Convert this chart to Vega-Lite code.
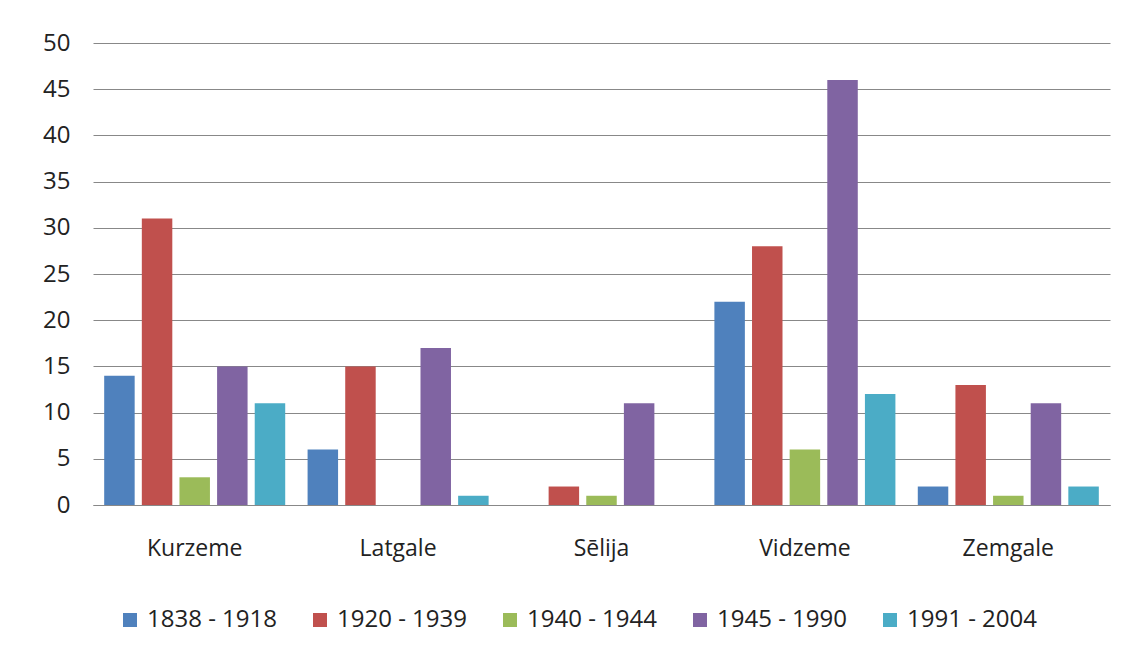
{
  "$schema": "https://vega.github.io/schema/vega-lite/v6.json",
  "autosize": "none",
  "width": 1017,
  "height": 462,
  "padding": {"left": 93, "top": 43, "right": 20, "bottom": 149},
  "background": "white",
  "data": {"values": [
    {"region": "Kurzeme", "period": "1838 - 1918", "value": 14},
    {"region": "Kurzeme", "period": "1920 - 1939", "value": 31},
    {"region": "Kurzeme", "period": "1940 - 1944", "value": 3},
    {"region": "Kurzeme", "period": "1945 - 1990", "value": 15},
    {"region": "Kurzeme", "period": "1991 - 2004", "value": 11},
    {"region": "Latgale", "period": "1838 - 1918", "value": 6},
    {"region": "Latgale", "period": "1920 - 1939", "value": 15},
    {"region": "Latgale", "period": "1940 - 1944", "value": 0},
    {"region": "Latgale", "period": "1945 - 1990", "value": 17},
    {"region": "Latgale", "period": "1991 - 2004", "value": 1},
    {"region": "Sēlija", "period": "1838 - 1918", "value": 0},
    {"region": "Sēlija", "period": "1920 - 1939", "value": 2},
    {"region": "Sēlija", "period": "1940 - 1944", "value": 1},
    {"region": "Sēlija", "period": "1945 - 1990", "value": 11},
    {"region": "Sēlija", "period": "1991 - 2004", "value": 0},
    {"region": "Vidzeme", "period": "1838 - 1918", "value": 22},
    {"region": "Vidzeme", "period": "1920 - 1939", "value": 28},
    {"region": "Vidzeme", "period": "1940 - 1944", "value": 6},
    {"region": "Vidzeme", "period": "1945 - 1990", "value": 46},
    {"region": "Vidzeme", "period": "1991 - 2004", "value": 12},
    {"region": "Zemgale", "period": "1838 - 1918", "value": 2},
    {"region": "Zemgale", "period": "1920 - 1939", "value": 13},
    {"region": "Zemgale", "period": "1940 - 1944", "value": 1},
    {"region": "Zemgale", "period": "1945 - 1990", "value": 11},
    {"region": "Zemgale", "period": "1991 - 2004", "value": 2}
  ]},
  "mark": {"type": "bar"},
  "encoding": {
    "x": {
      "field": "region", "type": "nominal",
      "scale": {"paddingInner": 0.11, "paddingOuter": 0.055},
      "axis": {"title": null, "labelAngle": 0, "ticks": false, "domainColor": "#888888", "labelPadding": 32, "labelFontSize": 23, "labelColor": "#222222", "labelFont": "Open Sans"}
    },
    "xOffset": {
      "field": "period", "type": "nominal",
      "scale": {"paddingInner": 0.19, "paddingOuter": 0}
    },
    "y": {
      "field": "value", "type": "quantitative",
      "scale": {"domain": [0, 50], "nice": false},
      "axis": {"title": null, "values": [0,5,10,15,20,25,30,35,40,45,50], "domain": false, "ticks": false, "labelPadding": 23, "gridColor": "#888888", "gridWidth": 1, "labelFontSize": 24, "labelColor": "#222222", "labelFont": "Open Sans"}
    },
    "color": {
      "field": "period", "type": "nominal",
      "scale": {"range": ["#4F81BD", "#C0504D", "#9BBB59", "#8064A2", "#4BACC6"]},
      "legend": {"title": null, "orient": "none", "legendX": 25, "legendY": 565, "direction": "horizontal", "symbolType": "square", "symbolSize": 196, "symbolStrokeWidth": 0, "labelFontSize": 24, "labelFont": "Open Sans", "labelColor": "#222222", "columnPadding": 31, "labelOffset": 5}
    }
  },
  "config": {"view": {"stroke": null}}
}
